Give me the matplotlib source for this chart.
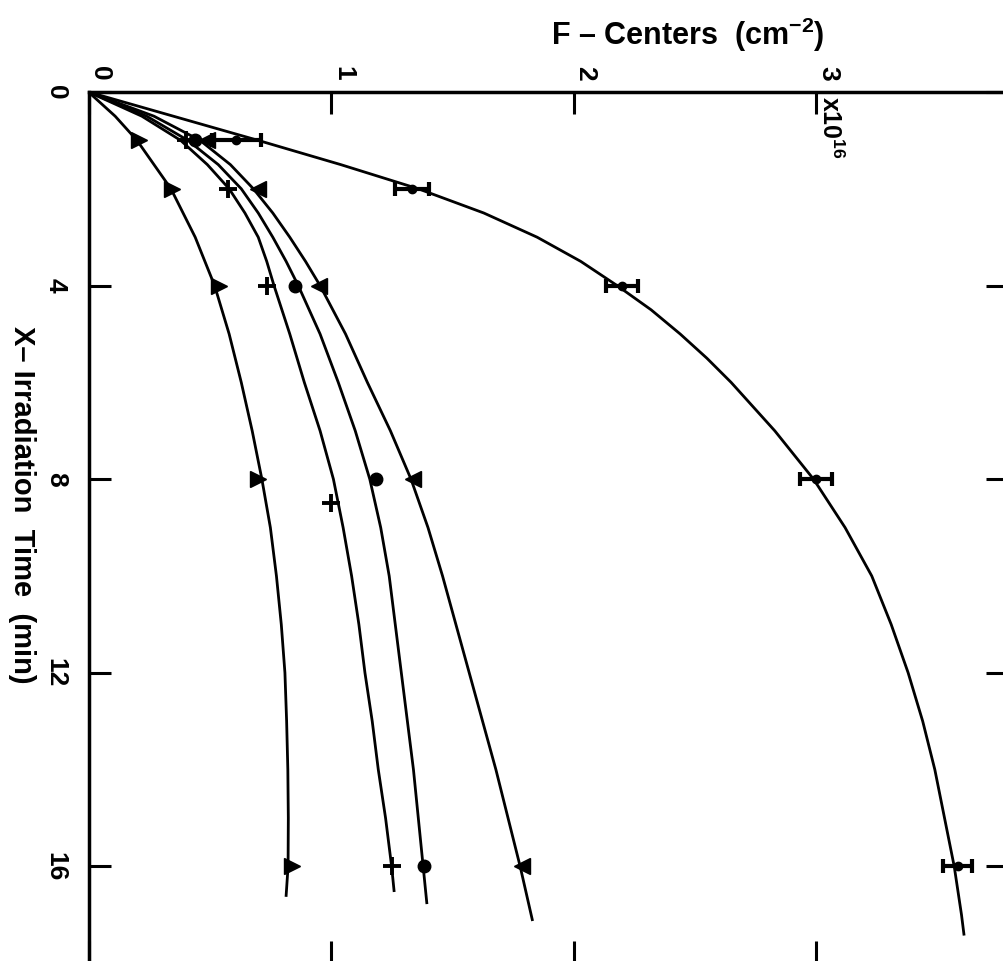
import matplotlib
matplotlib.use('Agg')
import matplotlib.pyplot as plt
import matplotlib.transforms as mtransforms

plt.rcParams['font.family'] = ['Liberation Sans', 'DejaVu Sans']
plt.rcParams['font.weight'] = 'bold'
plt.rcParams['mathtext.fontset'] = 'custom'
plt.rcParams['mathtext.rm'] = 'Liberation Sans:bold'
plt.rcParams['mathtext.it'] = 'Liberation Sans:bold'
plt.rcParams['mathtext.bf'] = 'Liberation Sans:bold'

# 측정점 (시간 min, F-center 1e16 cm^-2)
t_err = [1, 2, 4, 8, 16]
f_err = [0.61, 1.335, 2.20, 3.00, 3.585]
f_err_w = [0.10, 0.07, 0.065, 0.066, 0.06]

t_rtri = [1, 2, 4, 8, 16]
f_rtri = [0.21, 0.345, 0.54, 0.70, 0.84]

t_plus = [1, 2, 4, 8.5, 16]
f_plus = [0.40, 0.575, 0.737, 1.00, 1.25]

t_circ = [1, 4, 8, 16]
f_circ = [0.44, 0.85, 1.185, 1.383]

t_ltri = [1, 2, 4, 8, 16]
f_ltri = [0.49, 0.70, 0.952, 1.34, 1.786]

# 곡선 (그림에서 읽은 점)
curve_a_t = [0, 0.5, 1, 1.5, 2, 2.5, 3, 3.5, 4, 4.5, 5, 5.5, 6, 7, 8, 9, 10, 11, 12,
             13, 14, 15, 16, 17, 17.4]
curve_a_f = [0, 0.35, 0.70, 1.04, 1.36, 1.63, 1.85, 2.03, 2.18, 2.32, 2.44, 2.55, 2.65,
             2.83, 2.99, 3.12, 3.23, 3.31, 3.38, 3.44, 3.49, 3.53, 3.57, 3.60, 3.61]

curve_b_t = [0, 0.5, 1, 1.5, 2, 2.5, 3, 3.5, 4, 5, 6, 7, 8, 9, 10, 11, 12, 13, 14, 15,
             16, 16.6]
curve_b_f = [0, 0.11, 0.20, 0.27, 0.34, 0.39, 0.44, 0.48, 0.52, 0.58, 0.63, 0.675, 0.715,
             0.75, 0.775, 0.795, 0.81, 0.817, 0.822, 0.824, 0.823, 0.815]

curve_c_t = [0, 0.5, 1, 1.5, 2, 2.5, 3, 3.5, 4, 5, 6, 7, 8, 9, 10, 11, 12, 13, 14, 15,
             16, 16.5]
curve_c_f = [0, 0.22, 0.38, 0.49, 0.58, 0.645, 0.70, 0.735, 0.765, 0.83, 0.89, 0.955,
             1.01, 1.05, 1.085, 1.115, 1.14, 1.17, 1.195, 1.225, 1.25, 1.26]

curve_d_t = [0, 0.5, 1, 1.5, 2, 2.5, 3, 3.5, 4, 5, 6, 7, 8, 9, 10, 11, 12, 13, 14, 15,
             16, 16.75]
curve_d_f = [0, 0.24, 0.41, 0.535, 0.63, 0.70, 0.76, 0.815, 0.865, 0.955, 1.03, 1.10,
             1.16, 1.205, 1.24, 1.265, 1.29, 1.315, 1.34, 1.36, 1.38, 1.395]

curve_e_t = [0, 0.5, 1, 1.5, 2, 2.5, 3, 3.5, 4, 5, 6, 7, 8, 9, 10, 11, 12, 13, 14, 15,
             16, 17.1]
curve_e_f = [0, 0.27, 0.46, 0.585, 0.68, 0.76, 0.83, 0.895, 0.955, 1.06, 1.15, 1.245,
             1.33, 1.40, 1.46, 1.515, 1.57, 1.625, 1.68, 1.73, 1.78, 1.83]

x_ticks = [0, 1, 2, 3]
y_ticks = [0, 4, 8, 12, 16]

# 레이아웃 (픽셀)
W, H = 1004, 961
x0, y0 = 88.5, 92
px_f, px_t = 242.5, 48.4
f_max, t_max = 3.79, 18.0

fig = plt.figure(figsize=(W / 100, H / 100), dpi=100)
ax = fig.add_axes([x0 / W, 1 - (y0 + t_max * px_t) / H, f_max * px_f / W, t_max * px_t / H])
ax.set_xlim(0, f_max)
ax.set_ylim(t_max, 0)

for s in ax.spines.values():
    s.set_linewidth(2.5)

ax.xaxis.tick_top()
ax.tick_params(direction='in', length=16, width=2.2, top=True, bottom=True,
               left=True, right=True, labeltop=True, labelbottom=False,
               labelleft=True, labelright=False, labelsize=19)
ax.tick_params(axis='x', pad=8)
ax.tick_params(axis='y', pad=15)
ax.set_xticks(x_ticks)
ax.set_xticklabels([str(v) for v in x_ticks], rotation=270, fontweight='bold')
ax.set_yticks(y_ticks)
ax.set_yticklabels([str(v) for v in y_ticks], rotation=270, fontweight='bold',
                   va='center')
shift = mtransforms.ScaledTranslation(12 / 100, 0, fig.dpi_scale_trans)
for lab in ax.get_xticklabels():
    lab.set_transform(lab.get_transform() + shift)

lw = 2.0
ax.plot(curve_a_f, curve_a_t, color='black', lw=lw)
ax.plot(curve_b_f, curve_b_t, color='black', lw=lw)
ax.plot(curve_c_f, curve_c_t, color='black', lw=lw)
ax.plot(curve_d_f, curve_d_t, color='black', lw=lw)
ax.plot(curve_e_f, curve_e_t, color='black', lw=lw)

ax.errorbar(f_err, t_err, xerr=f_err_w, fmt='o', ms=6, color='black',
            elinewidth=3, capsize=5, capthick=3)
ax.plot(f_rtri, t_rtri, '>', ms=11, color='black')
ax.plot(f_plus, t_plus, '+', ms=13, mew=2.8, color='black')
ax.plot(f_circ, t_circ, 'o', ms=9, color='black')
ax.plot(f_ltri, t_ltri, '<', ms=11, color='black')

ax.text(3.06, 0.74, 'x10$^{16}$', rotation=270, ha='center', va='center',
        fontsize=18, fontweight='bold')

fig.text(688 / W, 1 - 35 / H, 'F – Centers  (cm$^{-2}$)', ha='center', va='center',
         fontsize=22, fontweight='bold')
fig.text(22 / W, 1 - 505 / H, 'X– Irradiation  Time  (min)', rotation=270,
         ha='center', va='center', fontsize=21, fontweight='bold')

fig.savefig('out.png', dpi=100, facecolor='white')
